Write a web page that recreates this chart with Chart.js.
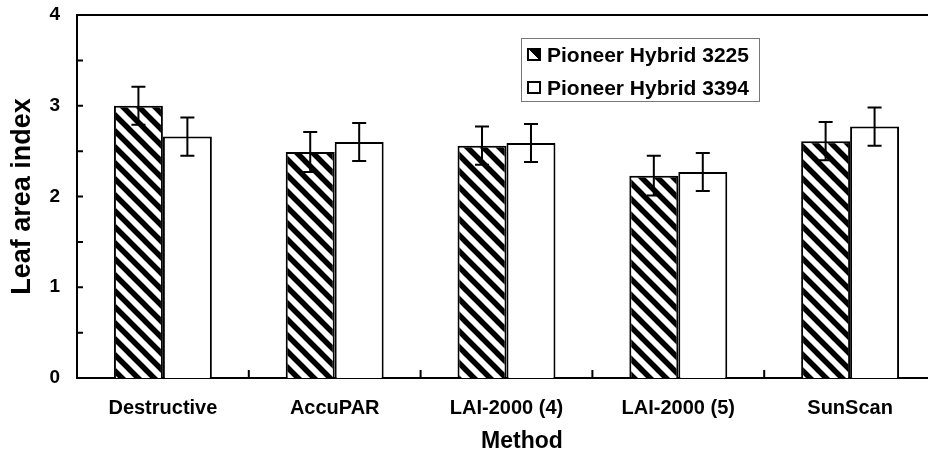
<!DOCTYPE html>
<html><head><meta charset="utf-8">
<script src="https://cdn.jsdelivr.net/npm/chart.js@4.4.1/dist/chart.umd.min.js"></script>
<style>
html,body{margin:0;padding:0;background:#fff;overflow:hidden;width:928px;height:463px;}
#wrap{position:relative;width:928px;height:463px;overflow:hidden;}
#c{position:absolute;left:0;top:0;}
#legend{position:absolute;left:521px;top:38px;width:239px;height:64px;border:1px solid #777;box-sizing:border-box;font:bold 21px "Liberation Sans",Arial,sans-serif;color:#000;}
.row{position:absolute;left:5px;height:26px;line-height:26px;white-space:nowrap;}
.icon{display:inline-block;width:14px;height:13px;box-sizing:border-box;border:2px solid #000;vertical-align:middle;margin-right:6px;position:relative;top:-2px;}
#xtitle{position:absolute;top:427px;left:422px;width:200px;text-align:center;font:bold 23px "Liberation Sans",Arial,sans-serif;color:#000;}
</style>
</head><body>
<div id="wrap">
<canvas id="c" width="940" height="463"></canvas>
<div id="legend"></div>
<div id="xtitle">Method</div>
</div>
<script>
const categories = ['Destructive', 'AccuPAR', 'LAI-2000 (4)', 'LAI-2000 (5)', 'SunScan'];
const seriesNames = ['Pioneer Hybrid 3225', 'Pioneer Hybrid 3394'];
const hybrid3225 = [3.00, 2.49, 2.56, 2.23, 2.61];
const hybrid3394 = [2.66, 2.60, 2.59, 2.27, 2.77];
const err3225 = [0.21, 0.22, 0.21, 0.22, 0.21];
const err3394 = [0.21, 0.21, 0.21, 0.21, 0.21];
const yLabelValues = [0, 1, 2, 3, 4];
const xTitle = 'Method';
const yTitle = 'Leaf area index';

// hatch pattern
const pc = document.createElement('canvas');
pc.width = 16; pc.height = 16;
const p = pc.getContext('2d');
p.fillStyle = '#fff'; p.fillRect(0, 0, 16, 16);
p.strokeStyle = '#000'; p.lineWidth = 5.5;
p.beginPath();
[-16, 0, 16].forEach(k => { p.moveTo(k - 3, -3); p.lineTo(k + 19, 19); });
p.stroke();
const hatch = document.getElementById('c').getContext('2d').createPattern(pc, 'repeat');

// HTML legend from series names
const lg = document.getElementById('legend');
seriesNames.forEach((name, i) => {
  const row = document.createElement('div');
  row.className = 'row';
  row.style.top = (i === 0 ? 3 : 36) + 'px';
  const ic = document.createElement('span');
  ic.className = 'icon';
  ic.style.background = i === 0 ? 'linear-gradient(to top right, #fff 50%, #000 50%)' : '#fff';
  row.appendChild(ic);
  row.appendChild(document.createTextNode(name));
  lg.appendChild(row);
});
document.getElementById('xtitle').textContent = xTitle;

const decor = {
  id: 'decor',
  afterDatasetsDraw(chart) {
    const {ctx, chartArea: a, scales: {x, y}} = chart;
    ctx.save();
    ctx.strokeStyle = '#000';
    ctx.lineWidth = 2;
    chart.data.datasets.forEach((ds, di) => {
      const meta = chart.getDatasetMeta(di);
      meta.data.forEach((bar, i) => {
        const v = ds.data[i], e = ds.errs[i];
        const yt = y.getPixelForValue(v + e), yb = y.getPixelForValue(v - e);
        ctx.beginPath();
        ctx.moveTo(bar.x, yt); ctx.lineTo(bar.x, yb);
        ctx.moveTo(bar.x - 7, yt); ctx.lineTo(bar.x + 7, yt);
        ctx.moveTo(bar.x - 7, yb); ctx.lineTo(bar.x + 7, yb);
        ctx.stroke();
      });
    });
    ctx.beginPath();
    ctx.moveTo(a.left - 1, a.top); ctx.lineTo(a.right, a.top);
    y.ticks.forEach(t => {
      if (t.value <= y.min || t.value >= y.max) return;
      const py = y.getPixelForValue(t.value);
      ctx.moveTo(a.left, py); ctx.lineTo(a.left + 6, py);
    });
    for (let i = 1; i <= categories.length; i++) {
      const px = x.getPixelForValue(i - 0.5);
      ctx.moveTo(px, a.bottom); ctx.lineTo(px, a.bottom - 8);
    }
    ctx.stroke();
    ctx.restore();
  }
};

new Chart(document.getElementById('c'), {
  type: 'bar',
  data: {
    labels: categories,
    datasets: [
      {label: seriesNames[0], data: hybrid3225, errs: err3225, backgroundColor: hatch, borderColor: '#000', borderWidth: 2},
      {label: seriesNames[1], data: hybrid3394, errs: err3394, backgroundColor: '#fff', borderColor: '#000', borderWidth: 2}
    ]
  },
  options: {
    responsive: false,
    animation: false,
    events: [],
    categoryPercentage: 0.57,
    barPercentage: 1.0,
    layout: {padding: {left: 0, right: 4, top: 15, bottom: 0}},
    plugins: {legend: {display: false}, tooltip: {enabled: false}},
    scales: {
      x: {
        grid: {display: false},
        border: {display: true, color: '#000', width: 2},
        ticks: {color: '#000', font: {family: '"Liberation Sans", Arial, sans-serif', size: 20, weight: 'bold'}, padding: 10, maxRotation: 0, autoSkip: false},
        afterFit(s) { s.height = 85; s.paddingLeft = 0; s.paddingRight = 0; }
      },
      y: {
        min: 0, max: 4,
        grid: {display: false, drawTicks: false},
        border: {display: true, color: '#000', width: 2},
        ticks: {
          stepSize: 0.5,
          color: '#000',
          padding: 17,
          font: {family: '"Liberation Sans", Arial, sans-serif', size: 19, weight: 'bold'},
          callback: v => yLabelValues.includes(v) ? String(v) : ''
        },
        title: {display: true, text: yTitle, color: '#000', font: {family: '"Liberation Sans", Arial, sans-serif', size: 27, weight: 'bold'}, padding: {top: 6, bottom: 0}},
        afterFit(s) { s.width = 77; s.paddingTop = 0; s.paddingBottom = 0; }
      }
    }
  },
  plugins: [decor]
});
</script>
</body></html>
